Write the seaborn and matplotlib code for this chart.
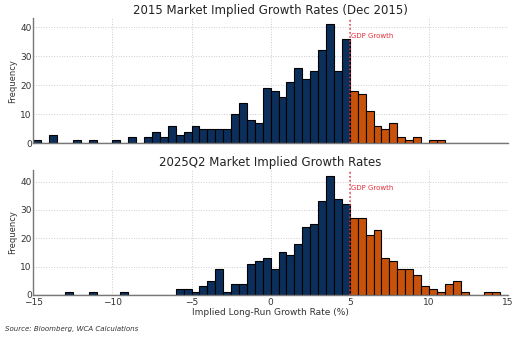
import numpy as np
import pandas as pd
import matplotlib
matplotlib.use("Agg")
import matplotlib.pyplot as plt
import seaborn as sns

# Bins: 0.5-wide, starting at -15 (left edges)
bin_left = np.arange(-15, 15, 0.5)
gdp_growth = 5.0

counts_2015 = [1, 0, 3, 0, 0, 1, 0, 1, 0, 0,
               1, 0, 2, 0, 2, 4, 2, 6, 3, 4,
               6, 5, 5, 5, 5, 10, 14, 8, 7, 19,
               18, 16, 21, 26, 22, 25, 32, 41, 25, 36,
               18, 17, 11, 6, 5, 7, 2, 1, 2, 0,
               1, 1, 0, 0, 0, 0, 0, 0, 0, 0]
counts_2025 = [0, 0, 0, 0, 1, 0, 0, 1, 0, 0,
               0, 1, 0, 0, 0, 0, 0, 0, 2, 2,
               1, 3, 5, 9, 1, 4, 4, 11, 12, 13,
               9, 15, 14, 18, 24, 25, 33, 42, 34, 32,
               27, 27, 21, 23, 13, 12, 9, 9, 7, 3,
               2, 1, 4, 5, 1, 0, 0, 1, 1, 0]

titles = ["2015 Market Implied Growth Rates (Dec 2015)", "2025Q2 Market Implied Growth Rates"]
xlabel = "Implied Long-Run Growth Rate (%)"
source = "Source: Bloomberg, WCA Calculations"

navy = "#0B2F5A"
orange = "#C9520A"

sns.set_style("white")
plt.rcParams['font.family'] = ['DejaVu Sans']

fig, axes = plt.subplots(2, 1, figsize=(5.19, 3.39), dpi=100, sharex=True)
fig.subplots_adjust(left=0.064, right=0.979, bottom=0.130, top=0.946, hspace=0.214)

for ax, counts, title in zip(axes, [counts_2015, counts_2025], titles):
    df = pd.DataFrame({"x": bin_left + 0.25, "w": counts})
    below = df[df["x"] < gdp_growth]
    above = df[df["x"] >= gdp_growth]
    sns.histplot(data=below, x="x", weights="w", binwidth=0.5, binrange=(-15, 5),
                 color=navy, edgecolor="black", linewidth=0.8, alpha=1, ax=ax)
    sns.histplot(data=above, x="x", weights="w", binwidth=0.5, binrange=(5, 15),
                 color=orange, edgecolor="black", linewidth=0.8, alpha=1, ax=ax)
    ax.axvline(gdp_growth, color="#E8303A", linestyle=":", linewidth=1.1)
    ymax = max(counts)
    ax.text(gdp_growth + 0.05, ymax * 0.9, "GDP Growth", color="#E8303A",
            fontsize=5, va="center", ha="left")
    ax.set_title(title, fontsize=8.5, color="#222222", pad=3)
    ax.set_ylabel("Frequency", fontsize=6, color="#333333", labelpad=2)
    ax.set_xlim(-15, 15)
    ax.set_ylim(0, ymax * 1.05)
    ax.set_yticks([0, 10, 20, 30, 40])
    ax.set_xticks([-15, -10, -5, 0, 5, 10, 15])
    ax.grid(True, linestyle=":", color="#CCCCCC", linewidth=0.7)
    ax.set_axisbelow(True)
    for s in ["top", "right"]:
        ax.spines[s].set_visible(False)
    for s in ["left", "bottom"]:
        ax.spines[s].set_color("#777777")
        ax.spines[s].set_linewidth(1.0)
    ax.tick_params(axis="both", labelsize=6.5, length=2, direction="in",
                   pad=1, colors="#333333")
    ax.tick_params(axis="x", pad=2)
    ax.set_xlabel("")

axes[1].set_xlabel(xlabel, fontsize=6.5, color="#333333", labelpad=1)
fig.text(0.01, 0.025, source, fontsize=5, style="italic", color="#333333")

fig.savefig("out.png", dpi=100)
